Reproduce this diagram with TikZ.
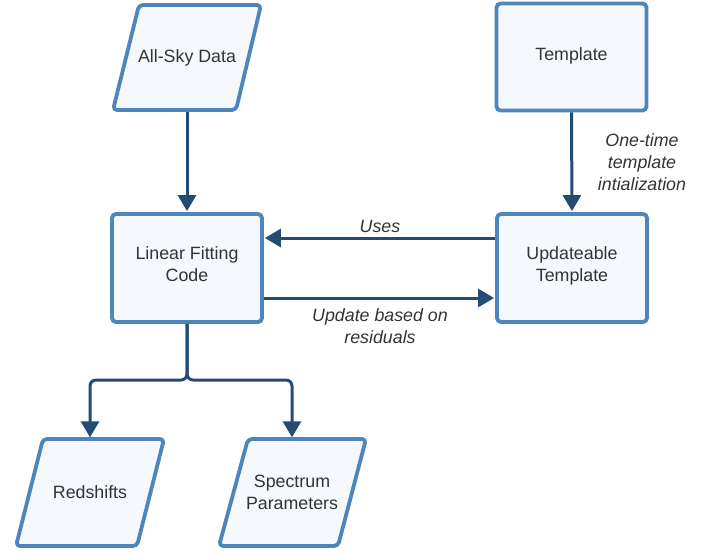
\documentclass[tikz,border=0pt]{standalone}
\usepackage{fontspec}
\setmainfont{Liberation Sans}
\usetikzlibrary{arrows.meta}
\definecolor{boxfill}{HTML}{F5F9FE}
\definecolor{boxline}{HTML}{4D86BA}
\definecolor{arrowc}{HTML}{234B73}
\definecolor{txtc}{HTML}{333333}
\begin{document}
\begin{tikzpicture}[x=1pt,y=-1pt, font=\fontsize{17.8}{22}\selectfont, text=txtc,
 box/.style={draw=boxline, fill=boxfill, line width=3.8pt, rounded corners=4pt, inner sep=0pt, align=center},
 para/.style={draw=boxline, fill=boxfill, line width=3.8pt, rounded corners=4pt, line join=round},
 slot/.style={inner sep=0pt, align=center, minimum height=108pt},
 conn/.style={draw=arrowc, line width=3pt, -{Triangle[length=16pt,width=18pt]}, shorten >=1pt},
 lbl/.style={font=\fontsize{17.8}{22}\selectfont\itshape, align=center}]
\useasboundingbox (0,0) rectangle (717,555);
% parallelograms
\draw[para] (139,5) -- (261,5) -- (236,110) -- (113,110) -- cycle;
\node[slot] (asky) at (187,57.5) {All-Sky Data};
\draw[para] (43,439) -- (164,439) -- (137,546) -- (16,546) -- cycle;
\node[slot] (red) at (90,492.5) {Redshifts};
\draw[para] (248,439) -- (366,439) -- (338,546) -- (219,546) -- cycle;
\node[slot] (spec) at (292,492.5) {Spectrum\\Parameters};
% rectangles
\node[box, minimum width=150pt, minimum height=107pt] (tmpl) at (571.5,57) {Template\rule[-5pt]{0pt}{0pt}};
\node[box, minimum width=150pt, minimum height=108pt] (lin) at (187,268) {Linear Fitting\\Code\rule[-8pt]{0pt}{0pt}};
\node[box, minimum width=150pt, minimum height=108pt] (upd) at (572,268) {Updateable\\Template\rule[-8pt]{0pt}{0pt}};
% connectors
\draw[conn] (asky.south) -- (lin.north);
\draw[conn] (tmpl.south) -- (upd.north);
\draw[conn] ([yshift=30pt]upd.west) -- ([yshift=30pt]lin.east);
\draw[conn] ([yshift=-30pt]lin.east) -- ([yshift=-30pt]upd.west);
\coordinate (split) at (187,380);
\draw[conn, rounded corners=6pt] (lin.south) -- (split) -| (red.north);
\draw[conn, rounded corners=6pt] (lin.south) -- (split) -| (spec.north);
% labels
\node[lbl] (luses) at (380,226) {Uses};
\node[lbl] (lupd) at (380,326) {Update based on\\residuals};
\node[lbl] (linit) at (642,162) {One-time\\template\\intialization};
\end{tikzpicture}
\end{document}
